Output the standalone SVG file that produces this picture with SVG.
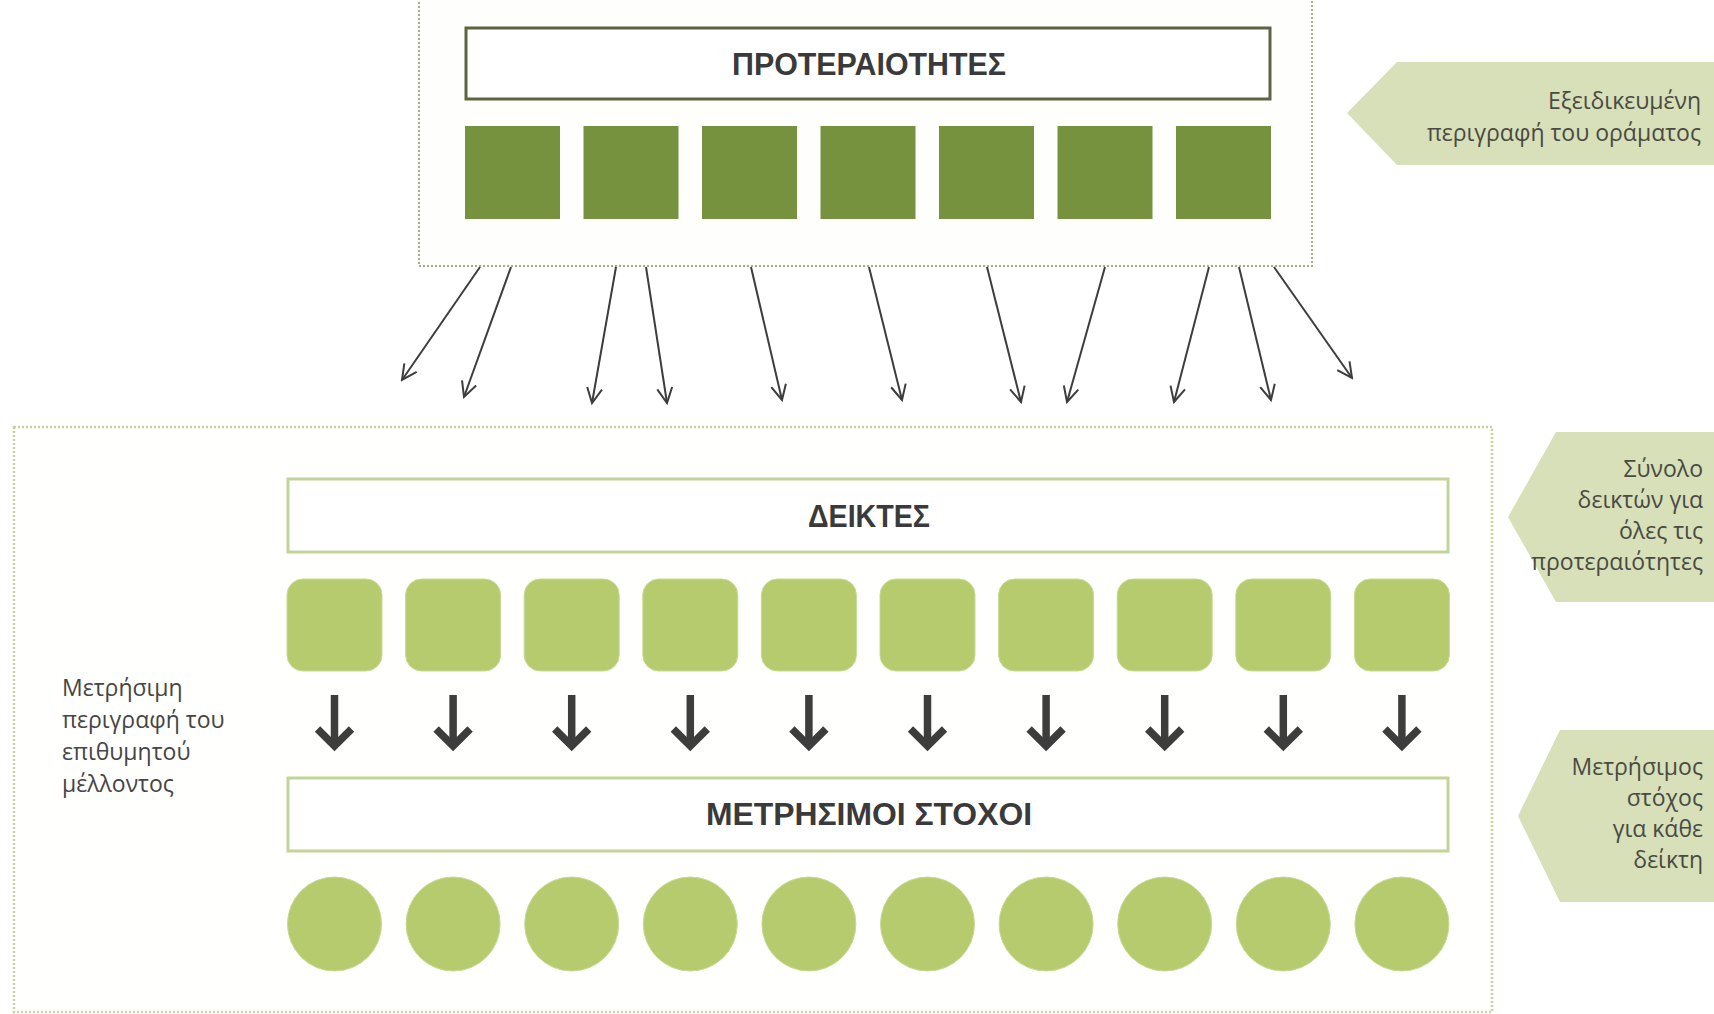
<svg xmlns="http://www.w3.org/2000/svg" xmlns:xlink="http://www.w3.org/1999/xlink" width="1714" height="1014" viewBox="0 0 1714 1014">
<style>
.bg{fill:#ffffff}
.cont1{fill:#fefefc;stroke:#a7ab8a;stroke-width:2;stroke-dasharray:2 2}
.cont2{fill:#fffffd;stroke:#c9d19d;stroke-width:2.5;stroke-dasharray:2 2}
.hdr1{fill:#ffffff;stroke:#5d6443;stroke-width:3}
.hdr2{fill:#ffffff;stroke:#c3d49a;stroke-width:3}
.dk{fill:#77923f}
.lt{fill:#b5cb6e;stroke:#c9da93;stroke-width:1}
.htxt{font-family:"Liberation Sans",Arial,sans-serif;font-weight:bold;fill:#3a3a3a;text-anchor:middle}
.call{fill:#d7e0b8}
.ctxt{font-family:"Open Sans","Noto Sans",sans-serif;font-size:23px;fill:#4a4a44;text-anchor:end}
.ltxt{font-family:"Open Sans","Noto Sans",sans-serif;font-size:23px;fill:#454545}
.conn{stroke:#3d3d3d;stroke-width:2;fill:none;marker-end:url(#ah)}
.dn{stroke:#3d3d3d;stroke-width:7.5;fill:none;stroke-linejoin:miter}
</style>
<defs>
<marker id="ah" markerUnits="userSpaceOnUse" markerWidth="18" markerHeight="18" viewBox="0 0 18 18" refX="16" refY="9" orient="auto">
<path d="M1,1.5 L16,9 L1,16.5" fill="none" stroke="#3d3d3d" stroke-width="2"/>
</marker>
<g id="dnArrow">
<line class="dn" x1="0" y1="695" x2="0" y2="746"/>
<polyline class="dn" points="-17,729 0,746 17,729"/>
</g>
</defs>
<rect class="bg" x="0" y="0" width="1714" height="1014"/>

<g id="top-container">
<rect class="cont1" x="419" y="-10" width="893" height="276"/>
</g>
<g id="priorities-header">
<rect class="hdr1" x="466" y="28" width="804" height="71"/>
<text class="htxt" x="869" y="75" font-size="31" textLength="274" lengthAdjust="spacingAndGlyphs">ΠΡΟΤΕΡΑΙΟΤΗΤΕΣ</text>
</g>
<g id="priorities">
<rect class="dk" x="465" y="126" width="95" height="93"/>
<rect class="dk" x="583.5" y="126" width="95" height="93"/>
<rect class="dk" x="702" y="126" width="95" height="93"/>
<rect class="dk" x="820.5" y="126" width="95" height="93"/>
<rect class="dk" x="939" y="126" width="95" height="93"/>
<rect class="dk" x="1057.5" y="126" width="95" height="93"/>
<rect class="dk" x="1176" y="126" width="95" height="93"/>
</g>

<g id="bottom-container">
<rect class="cont2" x="14" y="427" width="1478" height="585"/>
</g>
<g id="indicators-header">
<rect class="hdr2" x="288" y="479" width="1160" height="73"/>
<text class="htxt" x="869" y="527" font-size="32" textLength="122" lengthAdjust="spacingAndGlyphs">ΔΕΙΚΤΕΣ</text>
</g>
<g id="indicators">
<rect class="lt" x="287" y="579" width="95" height="92" rx="16"/>
<rect class="lt" x="405.6" y="579" width="95" height="92" rx="16"/>
<rect class="lt" x="524.2" y="579" width="95" height="92" rx="16"/>
<rect class="lt" x="642.8" y="579" width="95" height="92" rx="16"/>
<rect class="lt" x="761.4" y="579" width="95" height="92" rx="16"/>
<rect class="lt" x="880" y="579" width="95" height="92" rx="16"/>
<rect class="lt" x="998.6" y="579" width="95" height="92" rx="16"/>
<rect class="lt" x="1117.2" y="579" width="95" height="92" rx="16"/>
<rect class="lt" x="1235.8" y="579" width="95" height="92" rx="16"/>
<rect class="lt" x="1354.4" y="579" width="95" height="92" rx="16"/>
</g>
<g id="targets-header">
<rect class="hdr2" x="288" y="778" width="1160" height="73"/>
<text class="htxt" x="869" y="825" font-size="31" textLength="326" lengthAdjust="spacingAndGlyphs">ΜΕΤΡΗΣΙΜΟΙ ΣΤΟΧΟΙ</text>
</g>
<g id="targets">
<circle class="lt" cx="334.5" cy="924" r="47"/>
<circle class="lt" cx="453.1" cy="924" r="47"/>
<circle class="lt" cx="571.7" cy="924" r="47"/>
<circle class="lt" cx="690.3" cy="924" r="47"/>
<circle class="lt" cx="808.9" cy="924" r="47"/>
<circle class="lt" cx="927.5" cy="924" r="47"/>
<circle class="lt" cx="1046.1" cy="924" r="47"/>
<circle class="lt" cx="1164.7" cy="924" r="47"/>
<circle class="lt" cx="1283.3" cy="924" r="47"/>
<circle class="lt" cx="1401.9" cy="924" r="47"/>
</g>

<g id="connectors">
<line class="conn" x1="480" y1="267" x2="402" y2="380"/>
<line class="conn" x1="511" y1="267" x2="464" y2="397"/>
<line class="conn" x1="616" y1="267" x2="592" y2="403"/>
<line class="conn" x1="646" y1="267" x2="667" y2="403"/>
<line class="conn" x1="751" y1="267" x2="782" y2="400"/>
<line class="conn" x1="869" y1="267" x2="902" y2="400"/>
<line class="conn" x1="987" y1="267" x2="1021" y2="402"/>
<line class="conn" x1="1105" y1="267" x2="1067" y2="402"/>
<line class="conn" x1="1209" y1="267" x2="1174" y2="402"/>
<line class="conn" x1="1239" y1="267" x2="1271" y2="400"/>
<line class="conn" x1="1274" y1="267" x2="1352" y2="378"/>
<use xlink:href="#dnArrow" x="334.5"/>
<use xlink:href="#dnArrow" x="453.1"/>
<use xlink:href="#dnArrow" x="571.7"/>
<use xlink:href="#dnArrow" x="690.3"/>
<use xlink:href="#dnArrow" x="808.9"/>
<use xlink:href="#dnArrow" x="927.5"/>
<use xlink:href="#dnArrow" x="1046.1"/>
<use xlink:href="#dnArrow" x="1164.7"/>
<use xlink:href="#dnArrow" x="1283.3"/>
<use xlink:href="#dnArrow" x="1401.9"/>
</g>

<g id="left-note">
<text class="ltxt" x="62"><tspan x="62" y="696">Μετρήσιμη</tspan><tspan x="62" y="728">περιγραφή του</tspan><tspan x="62" y="760">επιθυμητού</tspan><tspan x="62" y="792">μέλλοντος</tspan></text>
</g>

<g id="callout-vision">
<polygon class="call" points="1347,113 1397,62 1714,62 1714,165 1397,165"/>
<text class="ctxt"><tspan x="1701" y="109">Εξειδικευμένη</tspan><tspan x="1701" y="141">περιγραφή του οράματος</tspan></text>
</g>
<g id="callout-indicators">
<polygon class="call" points="1508,517 1556,432 1714,432 1714,602 1556,602"/>
<text class="ctxt"><tspan x="1703" y="477">Σύνολο</tspan><tspan x="1703" y="508">δεικτών για</tspan><tspan x="1703" y="539">όλες τις</tspan><tspan x="1703" y="570">προτεραιότητες</tspan></text>
</g>
<g id="callout-targets">
<polygon class="call" points="1518,816 1560,730 1714,730 1714,902 1560,902"/>
<text class="ctxt"><tspan x="1703" y="775">Μετρήσιμος</tspan><tspan x="1703" y="806">στόχος</tspan><tspan x="1703" y="837">για κάθε</tspan><tspan x="1703" y="868">δείκτη</tspan></text>
</g>
</svg>
